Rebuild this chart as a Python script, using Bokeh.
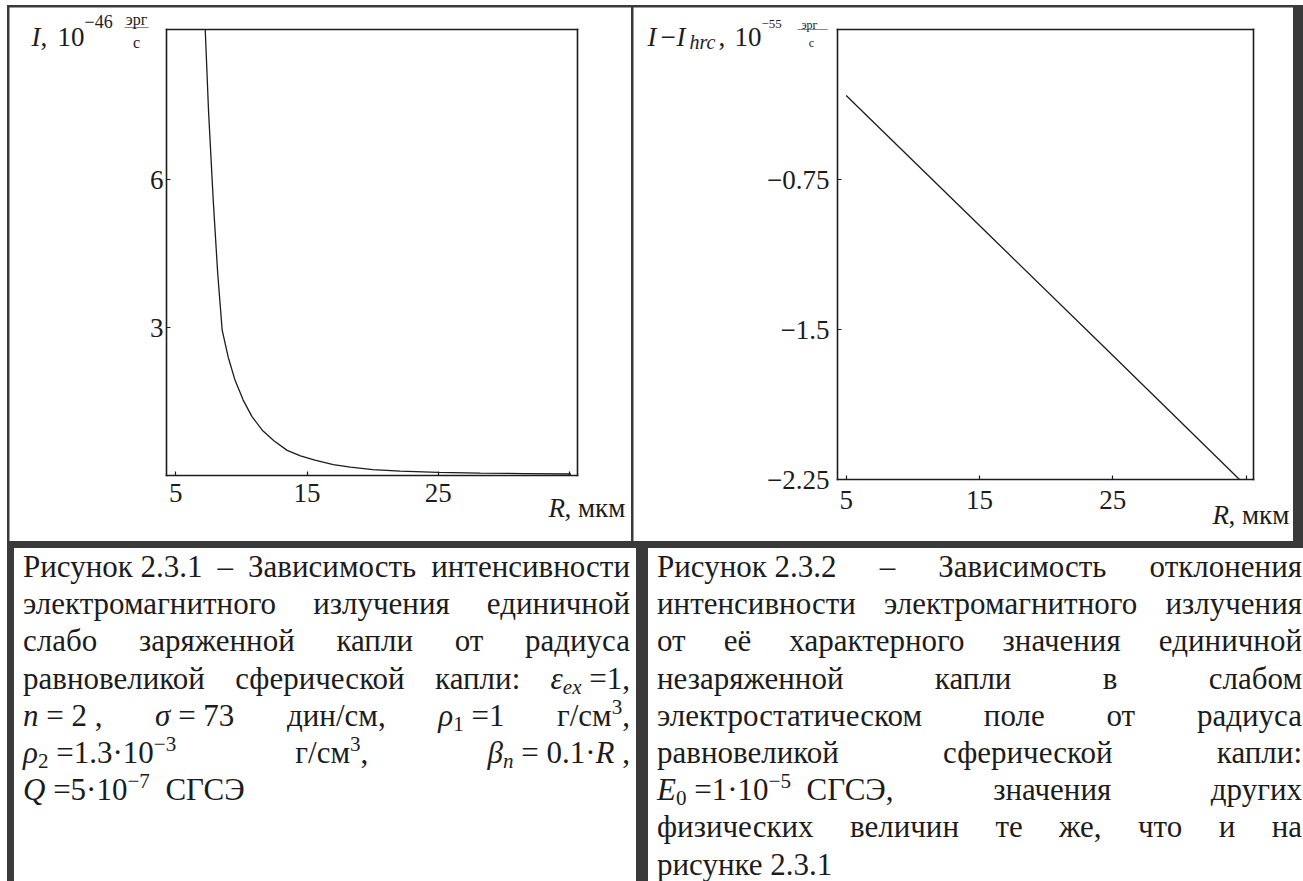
from bokeh.plotting import figure
from bokeh.models import Label, FixedTicker, Range1d, Div, CustomJSTickFormatter, LinearAxis
from bokeh.layouts import row, column
from bokeh.embed import file_html
from bokeh.resources import INLINE

# ---- Figure 2.3.1: intensity I (10^-46 erg/s) versus radius R (um) ----
r_left = [7.25, 7.5, 7.86, 8.2, 8.54, 9.0, 9.5, 10.14, 10.8, 11.59, 12.5, 13.49, 14.5, 15.6, 17.0, 18.3, 20.0, 22.1, 25.0, 28.2, 31.5, 35.1]
i_left = [9.05, 7.4, 5.58, 4.1, 2.95, 2.4, 1.95, 1.53, 1.2, 0.92, 0.7, 0.51, 0.4, 0.31, 0.22, 0.17, 0.12, 0.09, 0.065, 0.05, 0.04, 0.03]
x_ticks = [5, 15, 25, 35]
x_tick_labels = ["5", "15", "25", ""]
y_ticks_left = [3, 6]
y_tick_labels_left = ["3", "6"]
box_left = (4.3, 35.6, 0.0, 9.05)          # R from, R to, I from, I to

# ---- Figure 2.3.2: deviation I - I_hrc (10^-55 erg/s) versus radius R (um) ----
r_right = [5, 15, 25, 34.5]
dev_right = [-0.33, -0.98, -1.63, -2.25]
y_ticks_right = [-2.25, -1.5, -0.75]
y_tick_labels_right = ["\u22122.25", "\u22121.5", "\u22120.75"]
box_right = (4.35, 35.55, -2.25, 0.0)

SERIF = "Liberation Serif"
INK = "#1c1c1c"
RULE = "#3a3a3a"
TICK_PX = "27px"


def tick_formatter(vals, labels):
    return CustomJSTickFormatter(args=dict(vals=vals, labs=labels), code="""
        const i = vals.findIndex(v => Math.abs(v - tick) < 1e-9);
        return i < 0 ? "" : labs[i];
    """)


def make_panel(width, height, box, pad, xt, xl, yt, yl, ystand, xstand):
    """Cell-sized figure; the plot box sits `pad` (left, right, top, bottom) px inside it."""
    x0, x1, y0, y1 = box
    pl, pr, pt, pb = pad
    kx = (x1 - x0) / (width - pl - pr)
    ky = (y1 - y0) / (height - pt - pb)
    p = figure(width=width, height=height,
               x_range=Range1d(x0 - pl * kx, x1 + pr * kx),
               y_range=Range1d(y0 - pb * ky, y1 + pt * ky),
               x_axis_type=None, y_axis_type=None, min_border=0,
               output_backend="svg", toolbar_location=None)
    p.grid.visible = False
    p.background_fill_color = "white"
    p.border_fill_color = "white"
    p.outline_line_color = None

    def styled(ax, ticks, labels, standoff):
        ax.axis_line_color = INK
        ax.axis_line_width = 1.6
        ax.axis_line_cap = "square"
        ax.major_tick_in = 4
        ax.major_tick_out = 0
        ax.major_tick_line_color = INK
        ax.major_tick_line_width = 1.2
        ax.minor_tick_line_color = None
        ax.major_label_text_font = SERIF
        ax.major_label_text_font_size = TICK_PX
        ax.major_label_text_color = INK
        ax.major_label_standoff = standoff
        ax.ticker = FixedTicker(ticks=ticks)
        ax.formatter = tick_formatter(ticks, labels)
        return ax

    p.add_layout(styled(LinearAxis(fixed_location=y0, bounds=(x0, x1)), xt, xl, xstand), "below")
    p.add_layout(styled(LinearAxis(fixed_location=x0, bounds=(y0, y1)), yt, yl, ystand), "left")
    p.add_layout(styled(LinearAxis(fixed_location=y1, bounds=(x0, x1)), [], [], 0), "above")
    p.add_layout(styled(LinearAxis(fixed_location=x1, bounds=(y0, y1)), [], [], 0), "right")
    return p


def put(p, cell, text, x_abs, y_abs, size, italic=False, align="left", baseline="alphabetic"):
    """Place a text piece by page position; cell = (cell_left, cell_bottom) on the page."""
    p.add_layout(Label(x=x_abs - cell[0], y=cell[1] - y_abs,
                       x_units="screen", y_units="screen", text=text,
                       text_font=SERIF, text_font_size=f"{size}px",
                       text_font_style="italic" if italic else "normal",
                       text_color=INK, text_align=align, text_baseline=baseline))


# ---------- left panel ----------
left = make_panel(622, 534, box_left, (157, 54, 22, 66), x_ticks, x_tick_labels,
                  y_ticks_left, y_tick_labels_left, 3, 8)
left.line(r_left, i_left, line_color=INK, line_width=1.3)
cl = (9, 541)
put(left, cl, "I", 31, 36, 27, italic=True)
put(left, cl, ",", 40, 36, 27)
put(left, cl, "10", 57, 36, 27)
put(left, cl, "\u221246", 84, 21, 18)
put(left, cl, "эрг", 136, 19, 16, align="center")
put(left, cl, "\u2014\u2014", 136, 25, 12, align="center", baseline="middle")
put(left, cl, "с", 136, 42, 16, align="center")
put(left, cl, "R", 548, 507, 27, italic=True)
put(left, cl, ", мкм", 564, 507, 27)

# ---------- right panel ----------
right = make_panel(660, 534, box_right, (204, 40, 22, 62), x_ticks, x_tick_labels,
                   y_ticks_right, y_tick_labels_right, 8, 11)
right.line(r_right, dev_right, line_color=INK, line_width=1.3)
cr = (633, 541)
put(right, cr, "I", 647, 36, 27, italic=True)
put(right, cr, "\u2212", 660, 36, 27)
put(right, cr, "I", 676, 36, 27, italic=True)
put(right, cr, "hrc", 689, 41, 20, italic=True)
put(right, cr, ",", 718, 36, 27)
put(right, cr, "10", 734, 36, 27)
put(right, cr, "\u221255", 761, 23, 13)
put(right, cr, "эрг", 809, 24, 12, align="center")
put(right, cr, "\u2014\u2014\u2014", 812, 28, 10, align="center", baseline="middle")
put(right, cr, "с", 811, 42, 12, align="center")
put(right, cr, "R", 1212, 514, 27, italic=True)
put(right, cr, ", мкм", 1228, 514, 27)

# ---------- captions ----------
ATOM = 'style="display:inline-block"'
SUB = 'style="font-size:68%;line-height:0;vertical-align:-0.25em"'
SUP = 'style="font-size:68%;line-height:0;vertical-align:0.55em"'


def atom(s):
    return f'<span {ATOM}>{s}</span>'


def sub(s):
    return f'<span {SUB}>{s}</span>'


def sup(s):
    return f'<span {SUP}>{s}</span>'


caption_left = [
    atom("Рисунок 2.3.1") + " – Зависимость интенсивности",
    "электромагнитного излучения единичной",
    "слабо заряженной капли от радиуса",
    "равновеликой сферической капли: " + atom("<i>ε</i>" + sub("<i>ex</i>") + " =1,"),
    atom("<i>n</i> = 2 ,") + " " + atom("<i>σ</i> = 73") + " дин/см, "
    + atom("<i>ρ</i>" + sub("1") + " =1") + " г/см" + sup("3") + ",",
    atom("<i>ρ</i>" + sub("2") + " =1.3·10" + sup("\u22123")) + " г/см" + sup("3") + ", "
    + atom("<i>β</i>" + sub("<i>n</i>") + " = 0.1·<i>R</i> ,"),
    "<i>Q</i> =5·10" + sup("\u22127") + "&nbsp; СГСЭ",
]

caption_right = [
    atom("Рисунок 2.3.2") + " – Зависимость отклонения",
    "интенсивности электромагнитного излучения",
    "от её характерного значения единичной",
    "незаряженной капли в слабом",
    "электростатическом поле от радиуса",
    "равновеликой сферической капли:",
    atom("<i>E</i>" + sub("0") + " =1·10" + sup("\u22125") + "&nbsp; СГСЭ,") + " значения других",
    "физических величин те же, что и на",
    "рисунке 2.3.1",
]


def caption_div(lines, width):
    rows = []
    for k, ln in enumerate(lines):
        a = "left" if k == len(lines) - 1 else "justify"
        rows.append(f'<div style="text-align:{a};text-align-last:{a};">{ln}</div>')
    html = ('<div style="font-family:\'Liberation Serif\',serif;font-size:31px;'
            'line-height:37.2px;color:%s;padding:0 6px 0 9px;margin:0;'
            'box-sizing:border-box;width:%dpx;">%s</div>') % (INK, width, "".join(rows))
    return Div(text=html, width=width, height=338,
               styles={"background-color": "white", "overflow": "hidden"})


cap_l = caption_div(caption_left, 622)
cap_r = caption_div(caption_right, 660)

top_row = row(left, right, spacing=2, margin=(2, 2, 0, 2))
bottom_row = row(cap_l, cap_r, spacing=2, margin=(0, 2, 0, 2))
page = column(top_row, bottom_row, spacing=2, margin=(5, 0, 0, 7),
              styles={"background-color": RULE})

open("out.html", "w").write(file_html(page, INLINE, title="Рисунки 2.3.1–2.3.2"))
